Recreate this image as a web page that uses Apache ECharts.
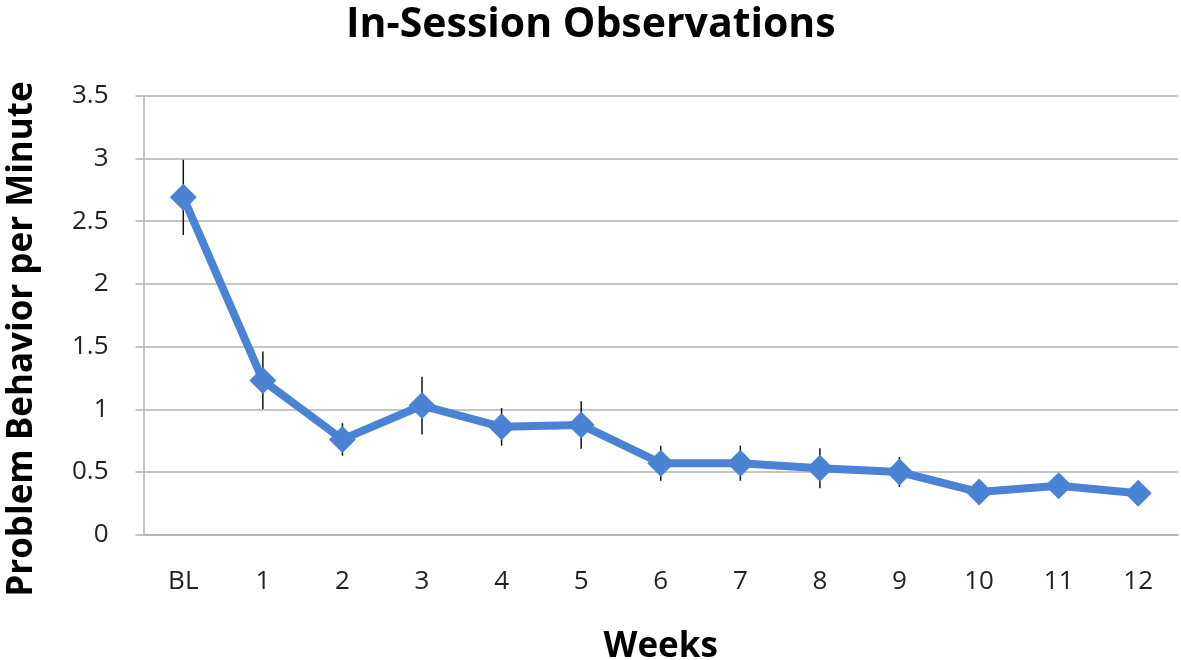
<!DOCTYPE html>
<html><head><meta charset="utf-8">
<script src="https://cdn.jsdelivr.net/npm/echarts@6/dist/echarts.min.js"></script>
<style>html,body{margin:0;padding:0;background:#fff}#c{width:1181px;height:660px}</style>
</head><body><div id="c"></div>
<script>
const categories = ['BL','1','2','3','4','5','6','7','8','9','10','11','12'];
const values = [2.69, 1.23, 0.76, 1.03, 0.86, 0.875, 0.57, 0.57, 0.53, 0.50, 0.34, 0.39, 0.33];
const errors = [0.30, 0.23, 0.13, 0.23, 0.15, 0.19, 0.14, 0.14, 0.16, 0.12, 0.05, 0.05, 0.04];
const yTicks = [0, 0.5, 1, 1.5, 2, 2.5, 3, 3.5];

const errData = categories.map((c, i) => [i, values[i] - errors[i], values[i] + errors[i]]);
const chart = echarts.init(document.getElementById('c'));
const FONT = 'Open Sans';
chart.setOption({
  animation: false,
  title: { text: 'In-Session Observations', left: 341, top: 0,
    textStyle: { fontFamily: FONT, fontWeight: 'bold', fontSize: 41, color: '#000' } },
  grid: { left: 143.5, right: 3, top: 95.8, bottom: 125.3, containLabel: false, outerBoundsMode: 'none' },
  graphic: [{
    type: 'text', x: 22, y: 339, rotation: Math.PI / 2,
    style: { text: 'Problem Behavior per Minute', fontFamily: FONT, fontWeight: 'bold',
      fontSize: 35, fill: '#000', align: 'center', verticalAlign: 'middle' }
  }],
  xAxis: {
    type: 'category', data: categories, boundaryGap: true,
    name: 'Weeks', nameLocation: 'middle', nameGap: 95,
    nameTextStyle: { fontFamily: FONT, fontWeight: 'bold', fontSize: 35, color: '#000' },
    axisLine: { lineStyle: { color: '#b3b3b3', width: 1.5 } },
    axisTick: { show: false },
    axisLabel: { fontFamily: FONT, fontSize: 26, color: '#222', margin: 34 }
  },
  yAxis: {
    type: 'value', min: 0, max: 3.5, interval: 0.5,
    axisLine: { show: true, lineStyle: { color: '#b3b3b3', width: 1.5 } },
    axisTick: { show: true, inside: false, length: 8, lineStyle: { color: '#b3b3b3', width: 1.5 } },
    axisLabel: { fontFamily: FONT, fontSize: 26, color: '#222', margin: 35,
      formatter: v => String(v) },
    splitLine: { lineStyle: { color: '#b3b3b3', width: 1.5 } }
  },
  series: [
    {
      type: 'custom', z: 1,
      data: errData,
      renderItem: function (params, api) {
        const x = api.value(0);
        const lo = api.coord([x, api.value(1)]);
        const hi = api.coord([x, api.value(2)]);
        return { type: 'line', shape: { x1: lo[0], y1: lo[1], x2: hi[0], y2: hi[1] },
          style: { stroke: '#111', lineWidth: 1.5 } };
      }
    },
    {
      type: 'line', z: 3, data: values,
      symbol: 'diamond', symbolSize: 27,
      lineStyle: { color: '#4a82d4', width: 8 },
      itemStyle: { color: '#4a82d4' }
    }
  ]
});
</script></body></html>
